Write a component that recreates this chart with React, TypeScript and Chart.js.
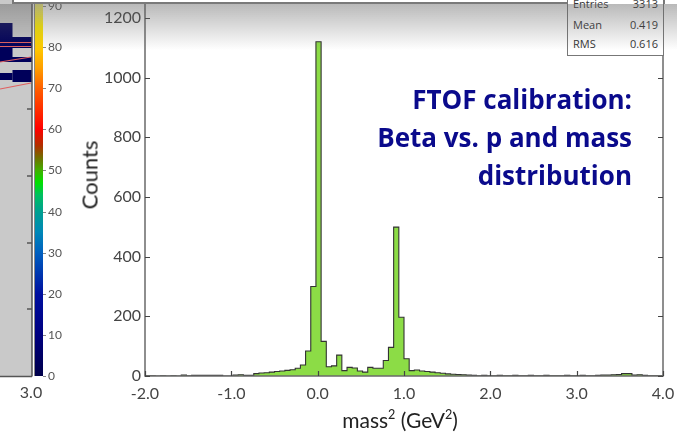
import React, { useEffect, useRef } from "react";
import { Chart, registerables } from "chart.js";

Chart.register(...registerables);

// ---- data ----
const BIN_START = -2.0;
const BIN_WIDTH = 0.06;
const BIN_COUNTS = [
  1, 1, 0, 1, 0, 1, 0, 3, 1, 2,
  2, 2, 2, 2, 2, 0, 0, 3, 4, 2,
  2, 8, 10, 11, 13, 15, 17, 19, 21, 26,
  37, 84, 300, 1120, 116, 31, 34, 70, 18, 29,
  27, 17, 13, 29, 26, 26, 52, 96, 499, 197,
  58, 18, 20, 17, 15, 13, 11, 9, 7, 6,
  5, 4, 3, 2, 1, 2, 1, 1, 2, 1,
  1, 2, 1, 1, 2, 1, 1, 2, 1, 1,
  1, 2, 1, 1, 2, 1, 1, 2, 3, 3,
  4, 5, 8, 8, 3, 4, 2, 1, 1, 1,
];
const X_RANGE = [-2, 4];
const Y_RANGE = [0, 1250];
const X_TICKS = [-2, -1, 0, 1, 2, 3, 4];
const Y_TICKS = [0, 200, 400, 600, 800, 1000, 1200];
const X_TITLE_MAIN = "mass";
const X_TITLE_UNIT = "GeV";
const Y_TITLE = "Counts";
const STAT_NAMES = ["Entries", "Mean", "RMS"];
const STAT_VALUES = ["3313", "0.419", "0.616"];
const NOTE_LINES = ["FTOF calibration:", "Beta vs. p and mass", "distribution"];
const CB_TICKS = [0, 10, 20, 30, 40, 50, 60, 70, 80, 90];
const CB_MAX = 90.7;
const CB_STOPS: [number, string][] = [
  [0, "#00004a"], [10, "#000080"], [20, "#0010a0"], [25, "#0038b0"],
  [30, "#0060c0"], [35, "#0088b8"], [40, "#00a090"], [44, "#00c060"],
  [47, "#00e000"], [50, "#40b000"], [53, "#707000"], [56, "#b03000"],
  [60, "#ff0000"], [65, "#ff3000"], [70, "#ff6000"], [75, "#ffa000"],
  [80, "#ffcc00"], [85, "#ffee00"], [90.7, "#f4f080"],
];
const LEFT_AXIS_LABEL = "3.0";

// ---- layout ----
const W = 677;
const H = 433;
const CB_BOTTOM = 376;
const CB_TOP = 3;
const cbY = (v: number) => CB_BOTTOM - (v / CB_MAX) * (CB_BOTTOM - CB_TOP);

const leftFragment = {
  id: "leftFragment",
  afterDraw(chart: any) {
    const ctx = chart.ctx as CanvasRenderingContext2D;
    ctx.save();
    ctx.fillStyle = "#c9c9c9";
    ctx.fillRect(0, 0, 32, 376);
    ctx.fillStyle = "#00005a";
    ctx.fillRect(0, 23, 12.5, 14);
    ctx.fillRect(0, 37, 32, 11);
    ctx.fillRect(0, 48, 12.5, 9);
    ctx.fillRect(0, 57, 32, 5);
    ctx.fillRect(12.5, 70, 19.5, 12);
    ctx.fillRect(0, 73, 12.5, 7);
    ctx.strokeStyle = "#e06060";
    ctx.lineWidth = 1.2;
    ctx.beginPath();
    ctx.moveTo(0, 42.5); ctx.lineTo(31, 42.5);
    ctx.moveTo(0, 46.5); ctx.lineTo(31, 46.5);
    ctx.moveTo(0, 62); ctx.lineTo(31, 57);
    ctx.moveTo(0, 89); ctx.lineTo(31, 83);
    ctx.stroke();
    ctx.strokeStyle = "#555";
    ctx.lineWidth = 1.5;
    ctx.beginPath();
    ctx.moveTo(32, 0); ctx.lineTo(32, 376.5);
    ctx.moveTo(0, 376.5); ctx.lineTo(32, 376.5);
    [109, 176, 243, 309].forEach((y) => { ctx.moveTo(27, y); ctx.lineTo(32, y); });
    ctx.stroke();
    const g = ctx.createLinearGradient(0, CB_BOTTOM, 0, CB_TOP);
    CB_STOPS.forEach(([v, c]) => g.addColorStop(v / CB_MAX, c));
    ctx.fillStyle = g;
    ctx.fillRect(35, CB_TOP, 8, CB_BOTTOM - CB_TOP);
    ctx.strokeStyle = "#888";
    ctx.lineWidth = 1;
    ctx.beginPath();
    ctx.moveTo(34.5, CB_TOP); ctx.lineTo(34.5, CB_BOTTOM);
    CB_TICKS.forEach((v) => { const y = Math.round(cbY(v)) + 0.5; ctx.moveTo(43, y); ctx.lineTo(46, y); });
    ctx.stroke();
    ctx.restore();
  },
};

const framePlugin = {
  id: "frame",
  afterDatasetsDraw(chart: any) {
    const { ctx, chartArea, scales } = chart;
    const { left, right, top, bottom } = chartArea;
    ctx.save();
    ctx.strokeStyle = "#6a6a6a";
    ctx.lineWidth = 1.5;
    ctx.strokeRect(left, top, right - left, bottom - top);
    ctx.lineWidth = 1.2;
    ctx.strokeStyle = "#444";
    ctx.beginPath();
    X_TICKS.forEach((v) => {
      const px = Math.round(scales.x.getPixelForValue(v)) + 0.5;
      ctx.moveTo(px, bottom);
      ctx.lineTo(px, bottom - 5);
    });
    Y_TICKS.forEach((v) => {
      const py = Math.round(scales.y.getPixelForValue(v)) + 0.5;
      ctx.moveTo(left, py);
      ctx.lineTo(left + 5, py);
      ctx.moveTo(right, py);
      ctx.lineTo(right - 5, py);
    });
    ctx.stroke();
    ctx.restore();
  },
};

export default function App() {
  const canvasRef = useRef<HTMLCanvasElement | null>(null);

  useEffect(() => {
    document.body.style.margin = "0";
    const canvas = canvasRef.current;
    if (!canvas) return;
    const points: { x: number; y: number }[] = [{ x: BIN_START, y: 0 }];
    BIN_COUNTS.forEach((c, i) => points.push({ x: BIN_START + i * BIN_WIDTH, y: c }));
    points.push({ x: BIN_START + BIN_COUNTS.length * BIN_WIDTH, y: 0 });

    const tickFont = { family: "Lato", size: 16 };
    const zeroPad = (s: any) => {
      s.paddingTop = 0;
      s.paddingBottom = 0;
      s.paddingLeft = 0;
      s.paddingRight = 0;
    };
    const chart = new Chart(canvas, {
      type: "line",
      data: {
        datasets: [
          {
            data: points,
            stepped: "before",
            fill: "origin",
            backgroundColor: "rgb(140,220,70)",
            borderColor: "#333",
            borderWidth: 1.1,
            pointRadius: 0,
            tension: 0,
          },
        ],
      },
      options: {
        responsive: false,
        animation: false,
        devicePixelRatio: 1,
        layout: { padding: { top: 3, right: 14, left: 0, bottom: 0 } },
        plugins: { legend: { display: false }, tooltip: { enabled: false } },
        scales: {
          x: {
            type: "linear",
            min: X_RANGE[0],
            max: X_RANGE[1],
            afterBuildTicks: (s: any) => { s.ticks = X_TICKS.map((v) => ({ value: v })); },
            afterFit: (s: any) => { s.height = 57; zeroPad(s); },
            ticks: {
              callback: (v: any) => Number(v).toFixed(1),
              font: tickFont,
              color: "#444",
              padding: 8,
              maxRotation: 0,
              autoSkip: false,
            },
            grid: { display: false, drawTicks: false },
            border: { display: false },
          },
          y: {
            type: "linear",
            min: Y_RANGE[0],
            max: Y_RANGE[1],
            afterBuildTicks: (s: any) => { s.ticks = Y_TICKS.map((v) => ({ value: v })); },
            afterFit: (s: any) => { s.width = 145; zeroPad(s); },
            ticks: { font: tickFont, color: "#444", padding: 4, callback: (v: any) => String(v) },
            grid: { display: false, drawTicks: false },
            border: { display: false },
          },
        },
      } as any,
      plugins: [framePlugin, leftFragment],
    });
    return () => chart.destroy();
  }, []);

  const sup = { fontSize: "0.6em", position: "relative" as const, top: "-0.75em" };

  return (
    <div style={{ position: "relative", width: W, height: H, overflow: "hidden", background: "#fff" }}>
      <canvas ref={canvasRef} width={W} height={H} style={{ position: "absolute", left: 0, top: 0 }} />
      {CB_TICKS.map((v) => (
        <div
          key={v}
          style={{
            position: "absolute", left: 48, top: cbY(v) - 8, height: 16, lineHeight: "16px",
            font: "12px Lato", color: "#555",
          }}
        >
          {v}
        </div>
      ))}
      <div style={{ position: "absolute", left: 11, width: 40, top: 382, textAlign: "center", font: "16px Lato", color: "#444" }}>
        {LEFT_AXIS_LABEL}
      </div>
      <div
        style={{
          position: "absolute", left: 89, top: 175, transform: "translate(-50%, -50%) rotate(-90deg)",
          font: "22px Lato", color: "#222", whiteSpace: "nowrap",
        }}
      >
        {Y_TITLE}
      </div>
      <div
        style={{
          position: "absolute", left: 300, width: 200, top: 409, textAlign: "center",
          font: "21px Lato", lineHeight: "21px", color: "#222", whiteSpace: "nowrap",
        }}
      >
        {X_TITLE_MAIN}<span style={sup}>2</span> ({X_TITLE_UNIT}<span style={sup}>2</span>)
      </div>
      <div
        style={{
          position: "absolute", right: 45, top: 80, textAlign: "right",
          font: "700 26px 'Open Sans'", lineHeight: "38px", color: "#0a0a8c", whiteSpace: "pre",
        }}
      >
        {NOTE_LINES.join("\n")}
      </div>
      <div
        style={{
          position: "absolute", left: 12, top: -10, width: 653, height: 14, boxSizing: "border-box",
          border: "2px solid #7a7a7a", background: "#fff",
        }}
      />
      <div
        style={{
          position: "absolute", left: 567, top: -12, width: 97, height: 68, boxSizing: "border-box",
          border: "1px solid #777", background: "#fff",
        }}
      />
      {STAT_NAMES.map((n, i) => (
        <div
          key={n}
          style={{
            position: "absolute", left: 573, width: 85, top: 4 + i * 18.5 - 8 + (i > 0 ? 2.5 : 0), height: 16, lineHeight: "16px",
            font: "11px 'Open Sans'", color: "#333", display: "flex", justifyContent: "space-between",
          }}
        >
          <span>{n}</span>
          <span>{STAT_VALUES[i]}</span>
        </div>
      ))}
      <div
        style={{
          position: "absolute", left: 0, top: 4, width: W, height: 46, pointerEvents: "none",
          background: "linear-gradient(rgba(100,100,100,0.45), rgba(255,255,255,0))",
        }}
      />
    </div>
  );
}
